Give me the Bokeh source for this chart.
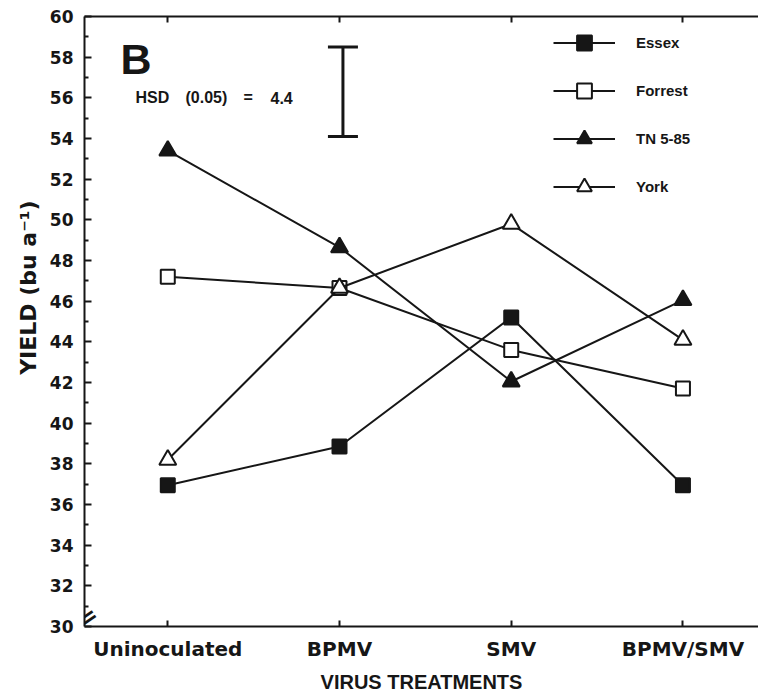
from bokeh.plotting import figure
from bokeh.models import (Range1d, LinearAxis, FixedTicker, Legend, LegendItem,
                          Label, Whisker, TeeHead, ColumnDataSource, Title)
from bokeh.embed import file_html
from bokeh.resources import INLINE

# ---- data ----
treatments = ["Uninoculated", "BPMV", "SMV", "BPMV/SMV"]
essex = [36.95, 38.85, 45.2, 36.95]
forrest = [47.2, 46.65, 43.6, 41.7]
tn585 = [53.4, 48.65, 42.05, 46.05]
york = [38.2, 46.65, 49.8, 44.1]
series_names = ["Essex", "Forrest", "TN 5-85", "York"]
hsd_value = 4.4
hsd_low = 54.1
hsd_pos = 1.02
y_ticks = list(range(30, 61, 2))
y_minor = list(range(31, 60, 2))

INK = "#161616"
xpos = list(range(len(treatments)))

p = figure(width=758, height=696, output_backend="svg", toolbar_location=None,
           x_range=Range1d(-0.485, 3.44), y_range=Range1d(30, 60),
           min_border_left=84, min_border_right=0, min_border_top=16,
           min_border_bottom=70, background_fill_color="white",
           border_fill_color="white")
p.grid.visible = False
p.outline_line_color = None

# bottom axis
xa = p.xaxis[0]
xa.ticker = FixedTicker(ticks=xpos)
xa.major_label_overrides = {i: t for i, t in zip(xpos, treatments)}
xa.major_tick_in = 6
xa.major_tick_out = 0
xa.minor_tick_line_color = None
xa.axis_line_width = 2
xa.axis_line_color = INK
xa.major_tick_line_color = INK
xa.major_tick_line_width = 2
xa.major_label_standoff = 10
xa.major_label_text_font = "DejaVu Sans"
xa.major_label_text_font_style = "bold"
xa.major_label_text_font_size = "20px"
xa.major_label_text_color = INK
xa.axis_label = "VIRUS TREATMENTS"
xa.axis_label_text_font = "Liberation Sans"
xa.axis_label_text_font_style = "bold"
xa.axis_label_text_font_size = "20px"
xa.axis_label_text_color = INK
xa.axis_label_standoff = 7

# left axis
ya = p.yaxis[0]
ya.ticker = FixedTicker(ticks=y_ticks, minor_ticks=y_minor)
ya.major_tick_in = 7
ya.major_tick_out = 0
ya.minor_tick_in = 4
ya.minor_tick_out = 0
ya.axis_line_width = 2
ya.axis_line_color = INK
ya.major_tick_line_color = INK
ya.minor_tick_line_color = INK
ya.major_tick_line_width = 2
ya.minor_tick_line_width = 2
ya.major_label_standoff = 11
ya.major_label_text_font = "DejaVu Sans"
ya.major_label_text_font_style = "bold"
ya.major_label_text_font_size = "17px"
ya.major_label_text_color = INK

# y axis title (placed higher, like the reference)
ytitle = Title(text="YIELD (bu a\u207b\u00b9)", align="right", offset=184,
               text_font="DejaVu Sans", text_font_style="bold",
               text_font_size="22px", text_color=INK, standoff=12)
p.add_layout(ytitle, "left")

# top axis (frame line with ticks, no labels)
top = LinearAxis(ticker=FixedTicker(ticks=xpos), major_tick_in=6, major_tick_out=0,
                 minor_tick_line_color=None, axis_line_width=2, axis_line_color=INK,
                 major_tick_line_color=INK, major_tick_line_width=2,
                 major_label_text_font_size="1px", major_label_text_color=None,
                 major_label_standoff=0)
p.add_layout(top, "above")

# series
styles = [
    (essex, "square", 14, INK),
    (forrest, "square", 14, "white"),
    (tn585, "triangle", 17, INK),
    (york, "triangle", 17, "white"),
]
items = []
for name, (vals, mk, sz, fill) in zip(series_names, styles):
    src = ColumnDataSource(dict(x=xpos, y=vals))
    lr = p.line("x", "y", source=src, line_width=2, line_color=INK)
    sr = p.scatter("x", "y", source=src, marker=mk, size=sz, fill_color=fill,
                   line_color=INK, line_width=2)
    items.append(LegendItem(label=name, renderers=[lr, sr]))

legend = Legend(items=items, location=(469, 421), orientation="vertical",
                padding=0, margin=0, spacing=11, glyph_width=62, glyph_height=37,
                label_height=37, label_standoff=21, border_line_color=None,
                background_fill_alpha=0, label_text_font="Liberation Sans",
                label_text_font_style="bold", label_text_font_size="15px",
                label_text_color=INK)
p.add_layout(legend, "center")

# HSD bar
hsd_src = ColumnDataSource(dict(base=[hsd_pos], lower=[hsd_low], upper=[hsd_low + hsd_value]))
wk = Whisker(source=hsd_src, base="base", lower="lower", upper="upper", dimension="height",
             line_width=3, line_color=INK,
             upper_head=TeeHead(size=30, line_width=3, line_color=INK),
             lower_head=TeeHead(size=30, line_width=3, line_color=INK))
p.add_layout(wk)

def lab(text, x, y, size, font="Liberation Sans", **kw):
    p.add_layout(Label(x=x, y=y, x_units="screen", y_units="screen", text=text,
                       text_font=font, text_font_style="bold", text_font_size=size,
                       text_color=INK, **kw))

lab("HSD", 51, 529, "16px", text_baseline="alphabetic")
lab("(0.05)", 101, 529, "16px", text_baseline="alphabetic")
lab("=", 159, 529, "16px", text_baseline="alphabetic")
lab("4.4", 186, 529, "16px", text_baseline="alphabetic")
lab("B", 36, 568, "43px", text_baseline="alphabetic")

# axis break mark
lab("=", 3, 9, "24px", font="DejaVu Sans", angle=0.6,
    text_align="center", text_baseline="middle")

open("out.html", "w").write(file_html(p, INLINE))
